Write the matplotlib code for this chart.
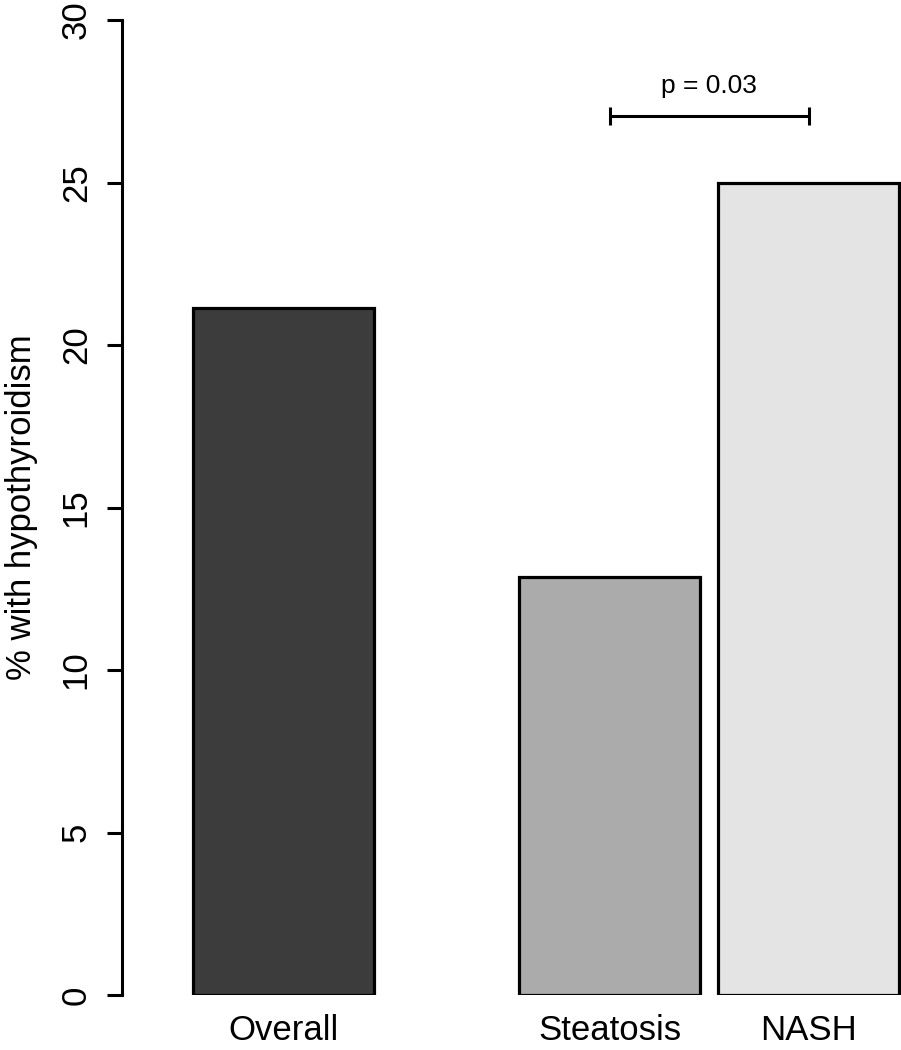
import matplotlib
matplotlib.use("Agg")
import matplotlib.pyplot as plt

groups = ["Overall", "Steatosis", "NASH"]
percent = [21.15, 12.85, 25.0]
bar_pos = [0.0, 1.8, 2.9]
bar_colors = ["#3c3c3c", "#ababab", "#e4e4e4"]
p_text = "p = 0.03"
p_height = 27.05

plt.rcParams["font.family"] = ["Liberation Sans", "DejaVu Sans"]

fig = plt.figure(figsize=(9.01, 10.5), dpi=100)
ax = fig.add_axes([122 / 901, 55 / 1050, 779 / 901, 975 / 1050])

ax.bar(bar_pos, percent, width=1.0, color=bar_colors, edgecolor="black", linewidth=2.3)

ax.set_ylim(0, 30)
ax.set_xlim(-0.895, 3.41)
ax.set_yticks([0, 5, 10, 15, 20, 25, 30])
ax.set_yticklabels(["0", "5", "10", "15", "20", "25", "30"], rotation=90, va="center")
ax.set_xticks(bar_pos)
ax.set_xticklabels(groups)
ax.tick_params(axis="y", length=11, width=2.2, labelsize=25, pad=10)
ax.tick_params(axis="x", length=0, labelsize=25, pad=14)
ax.set_ylabel("% with hypothyroidism", fontsize=25, labelpad=16)

for s in ["top", "right", "bottom"]:
    ax.spines[s].set_visible(False)
ax.spines["left"].set_linewidth(2.2)

# significance bracket between Steatosis and NASH
x1, x2 = bar_pos[1], bar_pos[2]
ax.plot([x1, x2], [p_height, p_height], color="black", lw=2.2, solid_capstyle="butt", clip_on=False)
for x in (x1, x2):
    ax.plot([x, x], [p_height - 0.27, p_height + 0.27], color="black", lw=2.2, solid_capstyle="butt", clip_on=False)
ax.text((x1 + x2) / 2, p_height + 0.55, p_text, ha="center", va="bottom", fontsize=19)

fig.savefig("out.png", dpi=100)
